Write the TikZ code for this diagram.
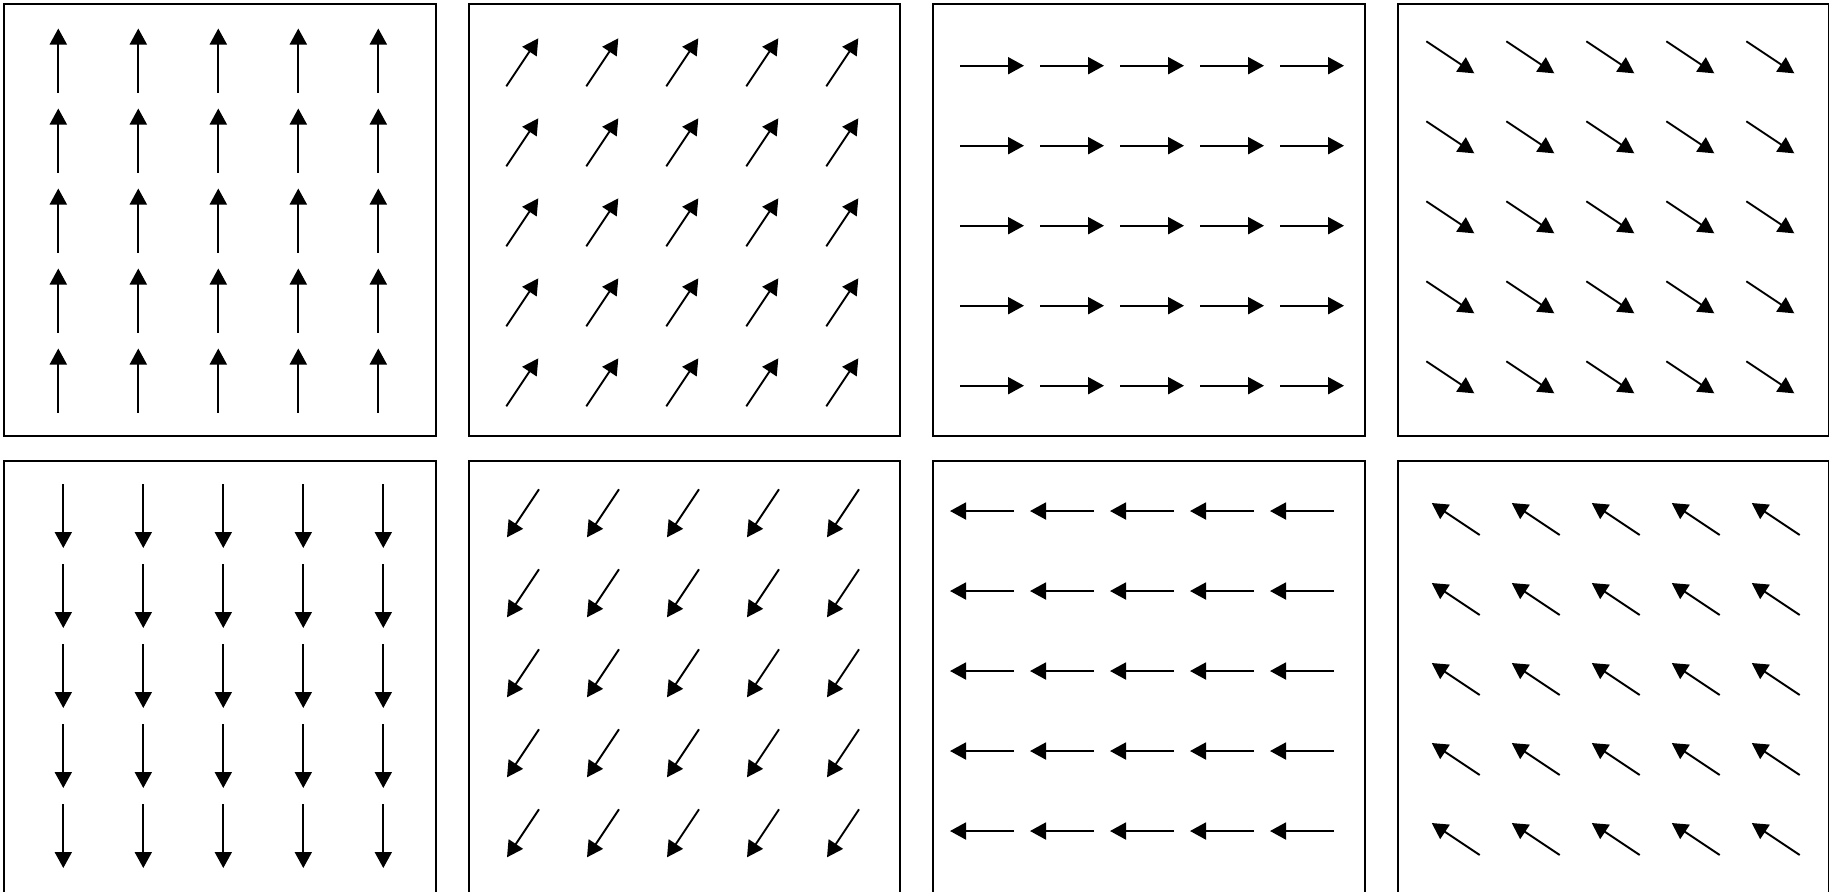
\documentclass[tikz,border=0pt]{standalone}
\usetikzlibrary{arrows.meta}
\begin{document}
\begin{tikzpicture}[x=0.5pt,y=-0.5pt]
\tikzset{
  panelbox/.style={draw=black,line width=1pt},
  fieldarrow/.style={draw=black,line width=0.95pt,line cap=butt,-{Triangle[length=8pt,width=8.5pt]}}
}
\useasboundingbox (0,0) rectangle (1829,891);
\clip (0,0) rectangle (1829,891);
\foreach \col in {0,...,3}
  \foreach \row in {0,1}
    \draw[panelbox] ({4.3+464.4*\col},{4.3+456.9*\row}) rectangle +(431.5,431.7);
\foreach \tx/\ty/\dx/\dy in {
    58.3/92.5/0/-64, 506.3/86.3/32/-48, 960/65.7/64/0, 1426.3/41.3/48/32,
    63.3/484/0/64, 539/489.3/-32/48, 1014/511/-64/0, 1479.7/535/-48/-32}
  \foreach \i in {0,...,4}
    \foreach \j in {0,...,4}
      \draw[fieldarrow] ({\tx+80*\i},{\ty+80*\j}) -- ++(\dx,\dy);
\end{tikzpicture}
\end{document}
